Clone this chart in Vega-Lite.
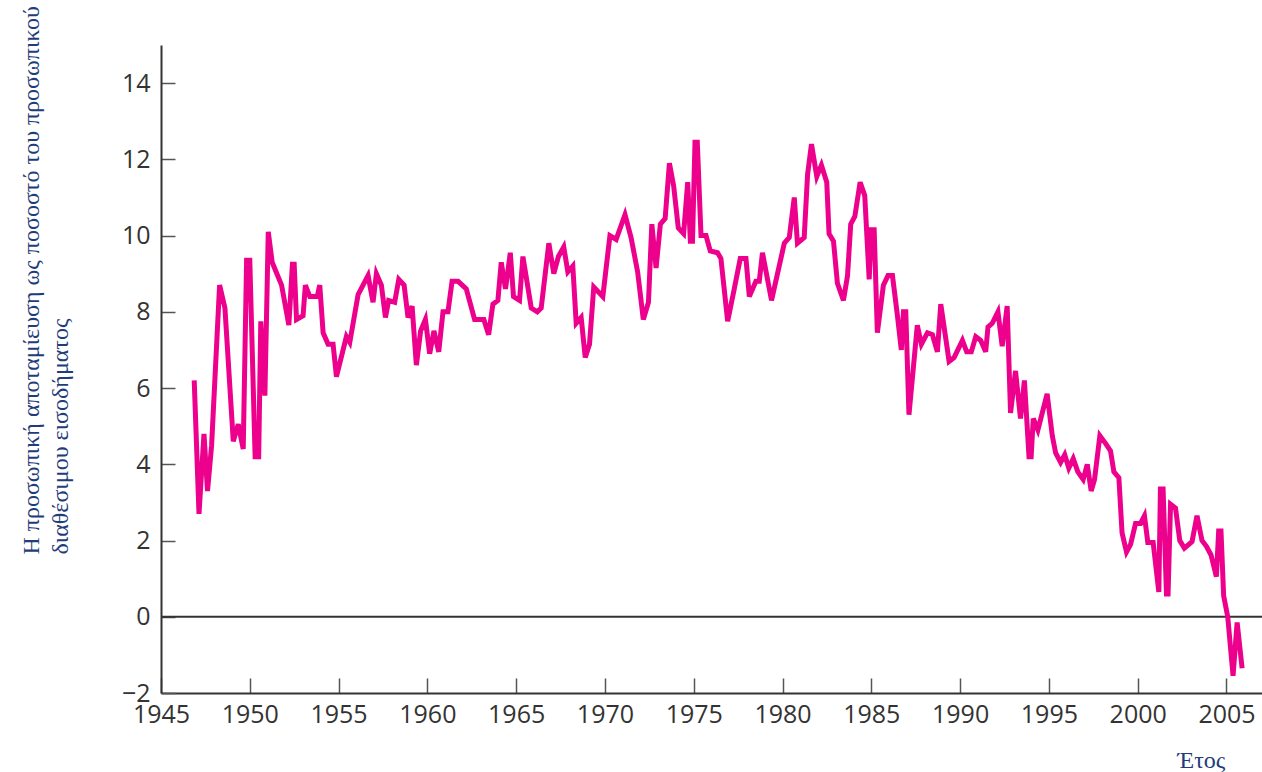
{
  "$schema": "https://vega.github.io/schema/vega-lite/v6.json",
  "width": 1101,
  "height": 648,
  "autosize": {"type": "none"},
  "padding": {"left": 161, "top": 45, "right": 0, "bottom": 79},
  "background": "white",
  "config": {
    "view": {"stroke": null},
    "axis": {
      "grid": false,
      "labelFont": "Open Sans",
      "labelFontSize": 25,
      "labelColor": "#333333",
      "domainColor": "#333333",
      "domainWidth": 2,
      "tickColor": "#555555",
      "tickWidth": 1.5,
      "labelFlush": false,
      "labelOverlap": false,
      "titleFont": "Liberation Serif",
      "titleFontSize": 24,
      "titleFontWeight": "normal",
      "titleColor": "#1f3d7a"
    }
  },
  "datasets": {
    "zero": [{"level": 0}],
    "saving": [
      {"year": 1946.87, "rate": 6.2},
      {"year": 1947.14, "rate": 2.7},
      {"year": 1947.42, "rate": 4.8},
      {"year": 1947.62, "rate": 3.3},
      {"year": 1947.85, "rate": 4.5},
      {"year": 1948.3, "rate": 8.7},
      {"year": 1948.6, "rate": 8.1},
      {"year": 1949.07, "rate": 4.6},
      {"year": 1949.35, "rate": 5.05},
      {"year": 1949.63, "rate": 4.4},
      {"year": 1949.82, "rate": 9.35},
      {"year": 1950.0, "rate": 9.35},
      {"year": 1950.3, "rate": 4.2},
      {"year": 1950.5, "rate": 4.2},
      {"year": 1950.62, "rate": 7.75},
      {"year": 1950.85, "rate": 5.8},
      {"year": 1951.04, "rate": 10.1},
      {"year": 1951.26, "rate": 9.3},
      {"year": 1951.79, "rate": 8.7},
      {"year": 1952.2, "rate": 7.65},
      {"year": 1952.4, "rate": 9.25},
      {"year": 1952.5, "rate": 9.25},
      {"year": 1952.63, "rate": 7.8},
      {"year": 1953.0, "rate": 7.9},
      {"year": 1953.13, "rate": 8.7},
      {"year": 1953.38, "rate": 8.4},
      {"year": 1953.8, "rate": 8.4},
      {"year": 1953.94, "rate": 8.7},
      {"year": 1954.13, "rate": 7.45},
      {"year": 1954.41, "rate": 7.15},
      {"year": 1954.69, "rate": 7.15},
      {"year": 1954.88, "rate": 6.3},
      {"year": 1955.44, "rate": 7.35},
      {"year": 1955.63, "rate": 7.2},
      {"year": 1956.1, "rate": 8.45},
      {"year": 1956.66, "rate": 8.95},
      {"year": 1956.94, "rate": 8.25},
      {"year": 1957.13, "rate": 9.0},
      {"year": 1957.41, "rate": 8.7},
      {"year": 1957.64, "rate": 7.85},
      {"year": 1957.82, "rate": 8.3},
      {"year": 1958.16, "rate": 8.25},
      {"year": 1958.39, "rate": 8.85},
      {"year": 1958.69, "rate": 8.7},
      {"year": 1958.91, "rate": 7.85},
      {"year": 1959.14, "rate": 8.15},
      {"year": 1959.38, "rate": 6.6},
      {"year": 1959.62, "rate": 7.5},
      {"year": 1959.89, "rate": 7.8},
      {"year": 1960.13, "rate": 6.9},
      {"year": 1960.37, "rate": 7.5},
      {"year": 1960.64, "rate": 6.95},
      {"year": 1960.88, "rate": 8.0},
      {"year": 1961.16, "rate": 8.0},
      {"year": 1961.39, "rate": 8.8},
      {"year": 1961.73, "rate": 8.8},
      {"year": 1962.19, "rate": 8.6},
      {"year": 1962.66, "rate": 7.8},
      {"year": 1963.18, "rate": 7.8},
      {"year": 1963.45, "rate": 7.4},
      {"year": 1963.69, "rate": 8.2},
      {"year": 1963.97, "rate": 8.3},
      {"year": 1964.16, "rate": 9.3},
      {"year": 1964.4, "rate": 8.6},
      {"year": 1964.67, "rate": 9.55},
      {"year": 1964.85, "rate": 8.4},
      {"year": 1965.19, "rate": 8.3},
      {"year": 1965.38, "rate": 9.45},
      {"year": 1965.85, "rate": 8.1},
      {"year": 1966.19, "rate": 8.0},
      {"year": 1966.41, "rate": 8.1},
      {"year": 1966.84, "rate": 9.8},
      {"year": 1967.12, "rate": 9.0},
      {"year": 1967.38, "rate": 9.45},
      {"year": 1967.68, "rate": 9.7},
      {"year": 1967.91, "rate": 9.05},
      {"year": 1968.19, "rate": 9.2},
      {"year": 1968.38, "rate": 7.7},
      {"year": 1968.66, "rate": 7.85},
      {"year": 1968.89, "rate": 6.8},
      {"year": 1969.13, "rate": 7.15},
      {"year": 1969.37, "rate": 8.65},
      {"year": 1969.88, "rate": 8.4},
      {"year": 1970.28, "rate": 10.0},
      {"year": 1970.63, "rate": 9.9},
      {"year": 1971.13, "rate": 10.55},
      {"year": 1971.47, "rate": 9.95},
      {"year": 1971.84, "rate": 9.05},
      {"year": 1972.16, "rate": 7.8},
      {"year": 1972.45, "rate": 8.25},
      {"year": 1972.64, "rate": 10.3},
      {"year": 1972.88, "rate": 9.15},
      {"year": 1973.12, "rate": 10.3},
      {"year": 1973.39, "rate": 10.45},
      {"year": 1973.63, "rate": 11.9},
      {"year": 1973.87, "rate": 11.3},
      {"year": 1974.13, "rate": 10.2},
      {"year": 1974.43, "rate": 10.05},
      {"year": 1974.66, "rate": 11.4},
      {"year": 1974.81, "rate": 9.85},
      {"year": 1974.93, "rate": 9.85},
      {"year": 1975.07, "rate": 12.45},
      {"year": 1975.2, "rate": 12.45},
      {"year": 1975.41, "rate": 10.0},
      {"year": 1975.69, "rate": 10.0},
      {"year": 1975.93, "rate": 9.6},
      {"year": 1976.34, "rate": 9.55},
      {"year": 1976.53, "rate": 9.4},
      {"year": 1976.91, "rate": 7.75},
      {"year": 1977.28, "rate": 8.6},
      {"year": 1977.62, "rate": 9.4},
      {"year": 1977.94, "rate": 9.4},
      {"year": 1978.13, "rate": 8.4},
      {"year": 1978.5, "rate": 8.8},
      {"year": 1978.69, "rate": 8.8},
      {"year": 1978.87, "rate": 9.55},
      {"year": 1979.38, "rate": 8.3},
      {"year": 1980.1, "rate": 9.8},
      {"year": 1980.38, "rate": 9.95},
      {"year": 1980.66, "rate": 11.0},
      {"year": 1980.84, "rate": 9.8},
      {"year": 1981.22, "rate": 9.95},
      {"year": 1981.41, "rate": 11.6},
      {"year": 1981.63, "rate": 12.4},
      {"year": 1981.93, "rate": 11.55},
      {"year": 1982.19, "rate": 11.85},
      {"year": 1982.49, "rate": 11.4},
      {"year": 1982.62, "rate": 10.05},
      {"year": 1982.87, "rate": 9.85},
      {"year": 1983.09, "rate": 8.75},
      {"year": 1983.43, "rate": 8.3},
      {"year": 1983.66, "rate": 8.95},
      {"year": 1983.84, "rate": 10.3},
      {"year": 1984.07, "rate": 10.5},
      {"year": 1984.37, "rate": 11.4},
      {"year": 1984.63, "rate": 11.05},
      {"year": 1984.88, "rate": 8.85},
      {"year": 1985.0, "rate": 10.15},
      {"year": 1985.16, "rate": 10.15},
      {"year": 1985.34, "rate": 7.45},
      {"year": 1985.68, "rate": 8.7},
      {"year": 1985.94, "rate": 8.95},
      {"year": 1986.19, "rate": 8.95},
      {"year": 1986.47, "rate": 7.9},
      {"year": 1986.69, "rate": 7.0},
      {"year": 1986.81, "rate": 8.0},
      {"year": 1986.94, "rate": 8.0},
      {"year": 1987.12, "rate": 5.3},
      {"year": 1987.59, "rate": 7.65},
      {"year": 1987.82, "rate": 7.15},
      {"year": 1988.16, "rate": 7.45},
      {"year": 1988.44, "rate": 7.4},
      {"year": 1988.72, "rate": 6.95},
      {"year": 1988.91, "rate": 8.2},
      {"year": 1989.38, "rate": 6.7},
      {"year": 1989.66, "rate": 6.8},
      {"year": 1990.13, "rate": 7.25},
      {"year": 1990.37, "rate": 6.95},
      {"year": 1990.63, "rate": 6.95},
      {"year": 1990.88, "rate": 7.35},
      {"year": 1991.16, "rate": 7.25},
      {"year": 1991.44, "rate": 6.95},
      {"year": 1991.57, "rate": 7.6},
      {"year": 1991.81, "rate": 7.7},
      {"year": 1992.13, "rate": 8.0},
      {"year": 1992.37, "rate": 7.1},
      {"year": 1992.65, "rate": 8.15},
      {"year": 1992.84, "rate": 5.35},
      {"year": 1993.12, "rate": 6.45},
      {"year": 1993.4, "rate": 5.2},
      {"year": 1993.62, "rate": 6.2},
      {"year": 1993.88, "rate": 4.2},
      {"year": 1994.0, "rate": 4.2},
      {"year": 1994.12, "rate": 5.2},
      {"year": 1994.38, "rate": 4.9},
      {"year": 1994.9, "rate": 5.85},
      {"year": 1995.19, "rate": 4.75},
      {"year": 1995.38, "rate": 4.3},
      {"year": 1995.66, "rate": 4.05},
      {"year": 1995.89, "rate": 4.25},
      {"year": 1996.12, "rate": 3.9},
      {"year": 1996.37, "rate": 4.15},
      {"year": 1996.63, "rate": 3.8},
      {"year": 1996.93, "rate": 3.6},
      {"year": 1997.16, "rate": 4.0},
      {"year": 1997.38, "rate": 3.3},
      {"year": 1997.57, "rate": 3.6},
      {"year": 1997.87, "rate": 4.75},
      {"year": 1998.19, "rate": 4.55},
      {"year": 1998.47, "rate": 4.35},
      {"year": 1998.66, "rate": 3.8},
      {"year": 1998.94, "rate": 3.65},
      {"year": 1999.12, "rate": 2.2},
      {"year": 1999.37, "rate": 1.7},
      {"year": 1999.6, "rate": 1.9},
      {"year": 1999.88, "rate": 2.45},
      {"year": 2000.16, "rate": 2.45},
      {"year": 2000.38, "rate": 2.65},
      {"year": 2000.57, "rate": 1.95},
      {"year": 2000.87, "rate": 1.95},
      {"year": 2001.19, "rate": 0.65},
      {"year": 2001.28, "rate": 3.35},
      {"year": 2001.43, "rate": 3.35},
      {"year": 2001.62, "rate": 0.6},
      {"year": 2001.71, "rate": 0.6},
      {"year": 2001.85, "rate": 2.95},
      {"year": 2002.13, "rate": 2.85},
      {"year": 2002.37, "rate": 2.0},
      {"year": 2002.63, "rate": 1.8},
      {"year": 2003.06, "rate": 1.97},
      {"year": 2003.34, "rate": 2.65},
      {"year": 2003.62, "rate": 2.0},
      {"year": 2003.87, "rate": 1.85},
      {"year": 2004.13, "rate": 1.62},
      {"year": 2004.43, "rate": 1.05},
      {"year": 2004.56, "rate": 2.25},
      {"year": 2004.69, "rate": 2.25},
      {"year": 2004.84, "rate": 0.55},
      {"year": 2005.07, "rate": 0.0},
      {"year": 2005.37, "rate": -1.55},
      {"year": 2005.6, "rate": -0.15},
      {"year": 2005.88, "rate": -1.35}
    ]
  },
  "layer": [
    {
      "data": {"name": "zero"},
      "mark": {"type": "rule", "color": "#333333", "strokeWidth": 2},
      "encoding": {
        "y": {"field": "level", "type": "quantitative", "scale": {"domain": [-2, 15], "nice": false, "zero": false}}
      }
    },
    {
      "data": {"name": "saving"},
      "mark": {"type": "line", "color": "#ec008c", "strokeWidth": 5},
      "encoding": {
        "x": {
          "field": "year",
          "type": "quantitative",
          "scale": {"domain": [1945, 2007], "nice": false, "zero": false},
          "axis": {
            "values": [1945, 1950, 1955, 1960, 1965, 1970, 1975, 1980, 1985, 1990, 1995, 2000, 2005],
            "format": "d",
            "tickSize": -15,
            "labelPadding": 24,
            "title": "Έτος",
            "titleAlign": "left",
            "titleBaseline": "alphabetic",
            "titleX": 1016,
            "titleY": 74
          }
        },
        "y": {
          "field": "rate",
          "type": "quantitative",
          "scale": {"domain": [-2, 15], "nice": false, "zero": false},
          "axis": {
            "values": [-2, 0, 2, 4, 6, 8, 10, 12, 14],
            "tickSize": -14,
            "labelPadding": 25,
            "title": ["Η προσωπική αποταμίευση ως ποσοστό του προσωπικού", "διαθέσιμου εισοδήματος"],
            "titleAngle": 270,
            "titleAlign": "left",
            "titleBaseline": "alphabetic",
            "titleX": -123,
            "titleY": 509,
            "titleLineHeight": 29
          }
        }
      }
    }
  ]
}
